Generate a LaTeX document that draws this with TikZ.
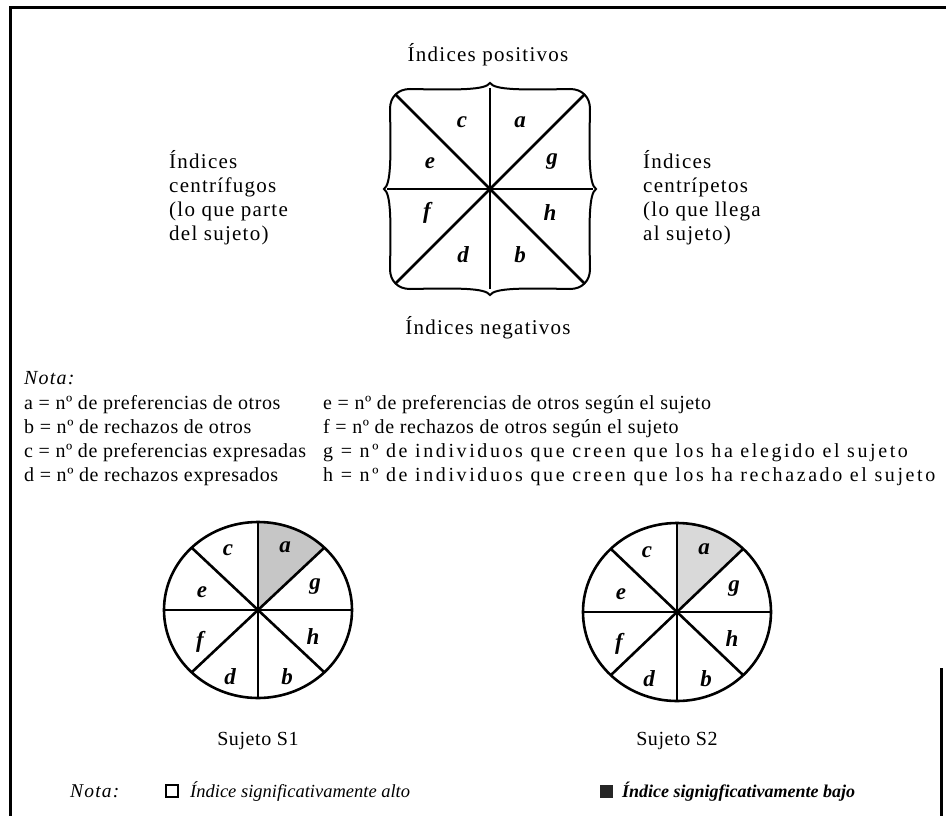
\documentclass[tikz,border=0pt]{standalone}
\usepackage{fontspec}
\setmainfont{Liberation Serif}
\newfontfamily\widefont[LetterSpace=6]{Liberation Serif}
\newfontfamily\notefont[LetterSpace=3]{Liberation Serif}
\newfontfamily\loosefont[LetterSpace=13]{Liberation Serif}
\usetikzlibrary{positioning}
\tikzset{
  lbl/.style={font=\fontsize{23}{23}\selectfont\bfseries\itshape, inner sep=0pt},
  head/.style={font=\fontsize{21}{24}\selectfont\widefont, inner sep=0pt},
  side/.style={head, align=left, anchor=north west},
  line/.style={font=\fontsize{20}{24}\selectfont\notefont, inner sep=0pt, anchor=base west},
  loose/.style={line, font=\fontsize{20}{24}\selectfont\loosefont},
  legend/.style={font=\fontsize{18.5}{20}\selectfont\itshape, inner sep=0pt, anchor=base west},
  rule/.style={line width=2.6pt},
}
\begin{document}
\begin{tikzpicture}[x=1pt,y=-1pt]
\useasboundingbox (0,0) rectangle (946,816);
% frame
\draw[line width=3pt] (10,816) -- (10,8) -- (946,8);
\draw[line width=3pt] (941,668) -- (941,816);

\node[head] (pos) at (488,55) {Índices positivos};
\node[head] (neg) at (488,328) {Índices negativos};
\node[side] (izq) at (169,150) {Índices\\centrífugos\\(lo que parte\\del sujeto)};
\node[side] (der) at (643,150) {Índices\\centrípetos\\(lo que llega\\al sujeto)};

% esquema de indices
\begin{scope}[shift={(490,189)}]
  \draw[line width=2pt] (-100,-80) .. controls (-100,-92) and (-92,-100) .. (-80,-100)
    .. controls (-30,-99) and (-5,-99) .. (0,-106)
    .. controls (5,-99) and (30,-99) .. (80,-100)
    .. controls (92,-100) and (100,-92) .. (100,-80)
    .. controls (99,-30) and (99,-5) .. (106,0)
    .. controls (99,5) and (99,30) .. (100,80)
    .. controls (100,92) and (92,100) .. (80,100)
    .. controls (30,99) and (5,99) .. (0,106)
    .. controls (-5,99) and (-30,99) .. (-80,100)
    .. controls (-92,100) and (-100,92) .. (-100,80)
    .. controls (-99,30) and (-99,5) .. (-106,0)
    .. controls (-99,-5) and (-99,-30) .. (-100,-80) -- cycle;
  \draw[rule] (-94,-94) -- (94,94);
  \draw[rule] (94,-94) -- (-94,94);
  \draw[rule] (0,-101) -- (0,100);
  \draw[rule] (-103,0) -- (103,0);
  \foreach \l/\px/\py in {c/-28/-67, a/30/-67, e/-60/-26, g/62/-27, f/-63/24, h/60/24, d/-27/66, b/30/66}
    \node[lbl] (t\l) at (\px,\py) {\l};
\end{scope}

% nota
\node[line, font=\fontsize{20}{24}\selectfont\widefont\itshape] (nota) at (24,384) {Nota:};
\node[line] (na) at (24,409) {a = nº de preferencias de otros};
\node[line] (nb) at (24,433) {b = nº de rechazos de otros};
\node[line] (nc) at (24,457) {c = nº de preferencias expresadas};
\node[line] (nd) at (24,481) {d = nº de rechazos expresados};
\node[line] (ne) at (323,409) {e = nº de preferencias de otros según el sujeto};
\node[line] (nf) at (323,433) {f = nº de rechazos de otros según el sujeto};
\node[loose] (ng) at (323,457) {g = nº de individuos que creen que los ha elegido el sujeto};
\node[loose] (nh) at (323,481) {h = nº de individuos que creen que los ha rechazado el sujeto};

% sujeto S1
\begin{scope}[shift={(258,610)}]
  \fill[gray!45] (0,0) -- (0,-88) arc[start angle=-90, end angle=-45, x radius=94, y radius=88] -- cycle;
  \draw[rule] (0,0) ellipse[x radius=94, y radius=88];
  \draw[rule] (-66,-62) -- (66,62);
  \draw[rule] (66,-62) -- (-66,62);
  \draw[rule] (0,-88) -- (0,88);
  \draw[rule] (-94,0) -- (94,0);
  \foreach \l/\px/\py in {c/-30/-60, a/27/-63, e/-56/-18, g/57/-23, f/-58/32, h/55/27, d/-28/67, b/29/67}
    \node[lbl] (u\l) at (\px,\py) {\l};
  \node[head, font=\fontsize{20}{24}\selectfont\notefont] (s1) at (0,131) {Sujeto S1};
\end{scope}

% sujeto S2
\begin{scope}[shift={(677,612)}]
  \fill[gray!30] (0,0) -- (0,-89) arc[start angle=-90, end angle=-45, x radius=94, y radius=89] -- cycle;
  \draw[rule] (0,0) ellipse[x radius=94, y radius=89];
  \draw[rule] (-66,-63) -- (66,63);
  \draw[rule] (66,-63) -- (-66,63);
  \draw[rule] (0,-89) -- (0,89);
  \draw[rule] (-94,0) -- (94,0);
  \foreach \l/\px/\py in {c/-30/-60, a/27/-63, e/-56/-18, g/57/-23, f/-58/32, h/55/27, d/-28/67, b/29/67}
    \node[lbl] (v\l) at (\px,\py) {\l};
  \node[head, font=\fontsize{20}{24}\selectfont\notefont] (s2) at (0,129) {Sujeto S2};
\end{scope}

% leyenda
\node[legend, font=\fontsize{19.5}{20}\selectfont\widefont\itshape] (nota2) at (70,797) {Nota:};
\node[draw, line width=2.5pt, minimum size=12pt, inner sep=0pt] (alto) at (172,791) {};
\node[legend] (altot) at (190,797) {Índice significativamente alto};
\node[fill=black!85, minimum size=13pt, inner sep=0pt] (bajo) at (606,791) {};
\node[legend, font=\fontsize{18}{20}\selectfont\bfseries\itshape] (bajot) at (622,797) {Índice signigficativamente bajo};
\end{tikzpicture}
\end{document}
